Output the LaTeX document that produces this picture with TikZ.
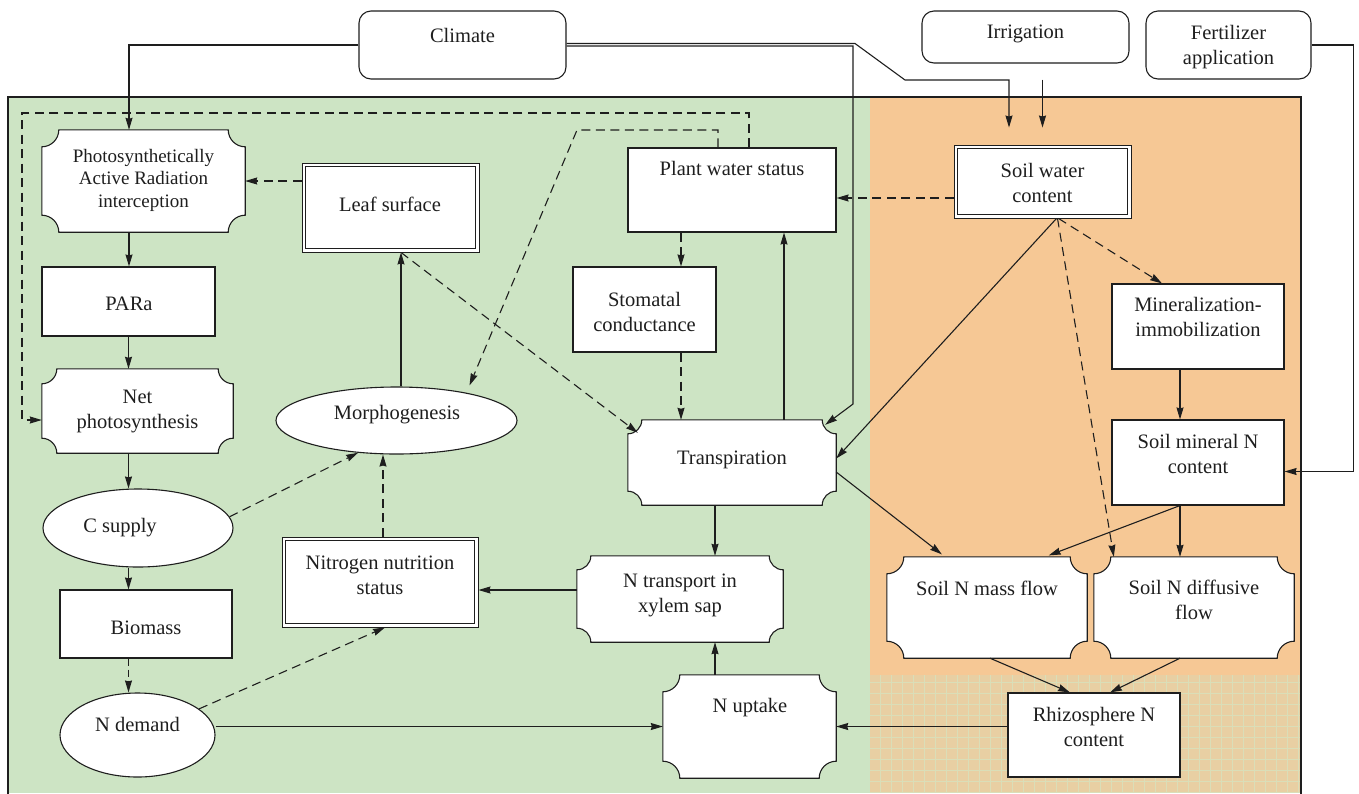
\documentclass[tikz,border=0pt]{standalone}
\usepackage{fontspec}
\setmainfont{Liberation Serif}
\newfontfamily\diagfont{Liberation Serif}
\usetikzlibrary{shapes.geometric,arrows.meta,calc}
\definecolor{plantgreen}{RGB}{205,228,196}
\definecolor{soilorange}{RGB}{246,200,149}
\definecolor{rhizobase}{RGB}{232,207,163}
\definecolor{rhizoline}{RGB}{218,222,184}
\definecolor{ink}{RGB}{30,30,30}
\tikzset{
  boxline/.style={draw=ink, line width=1.1pt},
  plainbox/.style={boxline, fill=white, rectangle, inner sep=0pt},
  dblbox/.style={draw=ink, fill=white, line width=0.9pt, rectangle, inner sep=0pt},
  ovalbox/.style={boxline, fill=white, ellipse, inner sep=0pt},
  roundbox/.style={boxline, fill=white, rounded corners=12pt, inner sep=0pt},
  notchbase/.style={draw=none, inner sep=0pt},
  lbl/.style={align=center, inner sep=0pt, text=ink},
  arr/.style={-{Stealth[length=12pt,width=7pt,inset=1pt]}, line width=1.1pt, draw=ink},
  darr/.style={arr, dash pattern=on 9pt off 5.5pt},
}
\newcommand\notchframe[2][15pt]{%
  \draw[boxline, fill=white]
    ($(#2.north west)+(#1,0pt)$) -- ($(#2.north east)+(-#1,0pt)$)
    arc[start angle=180, end angle=270, radius=#1]
    -- ($(#2.south east)+(0pt,#1)$)
    arc[start angle=90, end angle=180, radius=#1]
    -- ($(#2.south west)+(#1,0pt)$)
    arc[start angle=0, end angle=90, radius=#1]
    -- ($(#2.north west)+(0pt,-#1)$)
    arc[start angle=270, end angle=360, radius=#1]
    -- cycle;}
\newcommand\dblframe[1]{%
  \draw[draw=ink, line width=1.7pt] ($(#1.north west)+(4pt,-4pt)$) rectangle ($(#1.south east)+(-4pt,4pt)$);}
\begin{document}
\begin{tikzpicture}[x=1pt, y=-1pt, font=\diagfont\fontsize{20.5}{25}\selectfont]
\useasboundingbox (0,0) rectangle (1359,793);
% backgrounds
\fill[plantgreen] (9,97) rectangle (870,793);
\fill[soilorange] (870,97) rectangle (1301,675);
\fill[rhizobase] (870,675) rectangle (1301,793);
\draw[rhizoline, line width=0.7pt, step=11pt] (870,793) grid (1301,675);
\draw[draw=ink, line width=1.3pt] (8,800) -- (8,97) -- (1301,97) -- (1301,800);

% top boxes
\node[roundbox, minimum width=207pt, minimum height=68pt] (climate) at (462.5,45) {};
\node[lbl] (tclimate) at (462.5,35) {Climate};
\node[roundbox, minimum width=207pt, minimum height=52pt] (irrig) at (1025.5,37) {};
\node[lbl] (tirrig) at (1025.5,34) {Irrigation};
\node[roundbox, minimum width=165pt, minimum height=68pt] (fert) at (1228.5,45) {};
\node[lbl] (tfert) at (1228.5,47) {Fertilizer\\application};

% left column
\node[notchbase, minimum width=203pt, minimum height=102pt] (par) at (143.5,181) {};
\notchframe[17pt]{par}
\node[lbl, font=\diagfont\fontsize{19}{22.5}\selectfont] (tpar) at (143.5,180) {Photosynthetically\\Active Radiation\\interception};
\node[plainbox, minimum width=173pt, minimum height=69pt] (parA) at (128.5,301.5) {};
\node[lbl] (tparA) at (129,304) {PARa};
\node[notchbase, minimum width=191pt, minimum height=84pt] (net) at (137.5,411) {};
\notchframe[15pt]{net}
\node[lbl] (tnet) at (137.5,411) {Net\\photosynthesis};
\node[ovalbox, minimum width=190pt, minimum height=78pt] (csup) at (138,528) {};
\node[lbl] (tcsup) at (120,528) {C supply};
\node[plainbox, minimum width=172pt, minimum height=68pt] (bio) at (146,624) {};
\node[lbl] (tbio) at (146,628) {Biomass};
\node[ovalbox, minimum width=155pt, minimum height=84pt] (ndem) at (137.5,735) {};
\node[lbl] (tndem) at (137.5,724) {N demand};

% middle
\node[dblbox, minimum width=177pt, minimum height=89pt] (leaf) at (390.5,207.5) {};
\dblframe{leaf}
\node[lbl] (tleaf) at (390,204) {Leaf surface};
\node[ovalbox, minimum width=241pt, minimum height=67pt] (morph) at (396.5,420.5) {};
\node[lbl] (tmorph) at (397,415) {Morphogenesis};
\node[dblbox, minimum width=196pt, minimum height=90pt] (nnut) at (380,582) {};
\dblframe{nnut}
\node[lbl] (tnnut) at (380,575) {Nitrogen nutrition\\status};
\node[plainbox, minimum width=208pt, minimum height=84pt] (pws) at (732,190) {};
\node[lbl] (tpws) at (732,168) {Plant water status};
\node[plainbox, minimum width=143pt, minimum height=85pt] (stom) at (644.5,309.5) {};
\node[lbl] (tstom) at (644.5,312) {Stomatal\\conductance};
\node[notchbase, minimum width=208pt, minimum height=85pt] (trans) at (732,462.5) {};
\notchframe[14pt]{trans}
\node[lbl] (ttrans) at (732,460) {Transpiration};
\node[notchbase, minimum width=206pt, minimum height=86pt] (ntr) at (680,599) {};
\notchframe[14pt]{ntr}
\node[lbl] (tntr) at (680,595) {N transport in\\xylem sap};
\node[notchbase, minimum width=173pt, minimum height=103pt] (nup) at (749.5,726.5) {};
\notchframe[17pt]{nup}
\node[lbl] (tnup) at (750,708) {N uptake};

% right
\node[dblbox, minimum width=177pt, minimum height=73pt] (swc) at (1042.5,181.5) {};
\dblframe{swc}
\node[lbl] (tswc) at (1042.5,183) {Soil water\\content};
\node[plainbox, minimum width=172pt, minimum height=85pt] (mineral) at (1198,326.5) {};
\node[lbl] (tmin) at (1198,317) {Mineralization-\\immobilization};
\node[plainbox, minimum width=172pt, minimum height=85pt] (smn) at (1198,462.5) {};
\node[lbl] (tsmn) at (1198,454) {Soil mineral N\\content};
\node[notchbase, minimum width=200pt, minimum height=101pt] (mass) at (987,607.5) {};
\notchframe[17pt]{mass}
\node[lbl] (tmass) at (987,588) {Soil N mass flow};
\node[notchbase, minimum width=200pt, minimum height=101pt] (diff) at (1194,607.5) {};
\notchframe[17pt]{diff}
\node[lbl] (tdiff) at (1194,600) {Soil N diffusive\\flow};
\node[plainbox, minimum width=172pt, minimum height=84pt] (rhizo) at (1094,735) {};
\node[lbl] (trhizo) at (1094,727) {Rhizosphere N\\content};

% helper coordinates
\coordinate (cTopA) at (855,43.5);
\coordinate (cDiag) at (905,80);
\coordinate (cIrr) at (1009,80);
\coordinate (cTopB) at (853,46);
\coordinate (cDown) at (853,404);
\coordinate (loopTL) at (22,113);
\coordinate (morphTurn) at (577,130);

% climate, irrigation, fertilizer
\draw[arr] (climate.west) -| ([xshift=-14.5pt]par.north);
\draw[arr] ([yshift=1.5pt]climate.east) -- (cTopA) -- (cDiag) -- (cIrr) -- ([xshift=-33.5pt,yshift=17pt]swc.north);
\draw[arr] ([yshift=-1pt]climate.east) -- (cTopB) -- (cDown) -- ([xshift=-11pt,yshift=-5pt]trans.north east);
\draw[arr, shorten <=16pt, shorten >=17pt] (irrig.south -| swc.north) -- (swc.north);
\draw[arr] (fert.east) -- ++(42,0) |- ([yshift=-9pt]smn.east);

% left column chain
\draw[arr] ([xshift=-14.5pt]par.south) -- ([xshift=-14.5pt]par.south |- parA.north);
\draw[arr] (parA.south) -- (parA.south |- net.north);
\draw[arr] (parA.south |- net.south) -- (parA.south |- csup.north);
\draw[arr] (parA.south |- csup.south) -- (parA.south |- bio.north);
\draw[darr, dash pattern=on 7pt off 4pt] (parA.south |- bio.south) -- (parA.south |- ndem.north);

% dashed feedback loops
\draw[darr] ([xshift=17pt]pws.north) |- (loopTL) |- ([yshift=-9pt]net.west);
\draw[darr] ([xshift=-14pt]pws.north) |- (morphTurn) -- ([xshift=73pt,yshift=1pt]morph.north);
\draw[darr] (leaf.west |- par.east) -- (par.east);
\draw[arr] ([xshift=4.5pt]morph.north) -- ([xshift=4.5pt]morph.north |- leaf.south);
\draw[darr] ([xshift=10.5pt]leaf.south) -- ([xshift=10pt,yshift=-13pt]trans.north west);
\draw[darr] (csup.7) -- (morph.220);
\draw[darr] ([xshift=3pt]nnut.north) -- ([xshift=3pt]nnut.north |- morph.south);
\draw[darr] (ndem.23) -- ([xshift=5pt]nnut.south);
\draw[arr] (ndem.east |- nup.west) -- (nup.west);
\draw[arr] (rhizo.west |- nup.east) -- (nup.east);
\draw[arr] ([xshift=-34.5pt]nup.north) -- ([xshift=-34.5pt]nup.north |- ntr.south);
\draw[arr] ([xshift=-17pt]trans.south) -- ([xshift=-17pt]trans.south |- ntr.north);
\draw[arr] ([yshift=9pt]ntr.west) -- ([yshift=9pt]ntr.west -| nnut.east);
\draw[arr] ([xshift=52pt]trans.north) -- ([xshift=52pt]trans.north |- pws.south);
\draw[darr] ([xshift=-51pt]pws.south) -- ([xshift=-51pt]pws.south |- stom.north);
\draw[darr] ([xshift=36.5pt]stom.south) -- ([xshift=36.5pt]stom.south |- trans.north);

% soil side
\draw[darr] ([yshift=-16.5pt]swc.west) -- ([yshift=-16.5pt]swc.west -| pws.east);
\draw[arr] ([xshift=14pt]swc.south) -- ([yshift=4pt]trans.east);
\draw[darr] ([xshift=16pt]swc.south) -- ([xshift=-36pt]mineral.north);
\draw[darr] ([xshift=15pt]swc.south) -- ([xshift=20pt]diff.north west);
\draw[arr] ([xshift=-18pt]mineral.south) -- ([xshift=-18pt]mineral.south |- smn.north);
\draw[arr] ([xshift=-18pt]smn.south) -- ([xshift=-18pt]smn.south |- diff.north);
\draw[arr, shorten >=4pt] ([xshift=-18pt]smn.south) -- ([xshift=58pt]mass.north);
\draw[arr, shorten >=4pt] ([yshift=-9.5pt]trans.east) -- ([xshift=-42pt]mass.north);
\draw[arr] ([xshift=3pt]mass.south) -- ([xshift=-24pt]rhizo.north);
\draw[arr] ([xshift=-14pt]diff.south) -- ([xshift=16pt]rhizo.north);
\end{tikzpicture}
\end{document}
